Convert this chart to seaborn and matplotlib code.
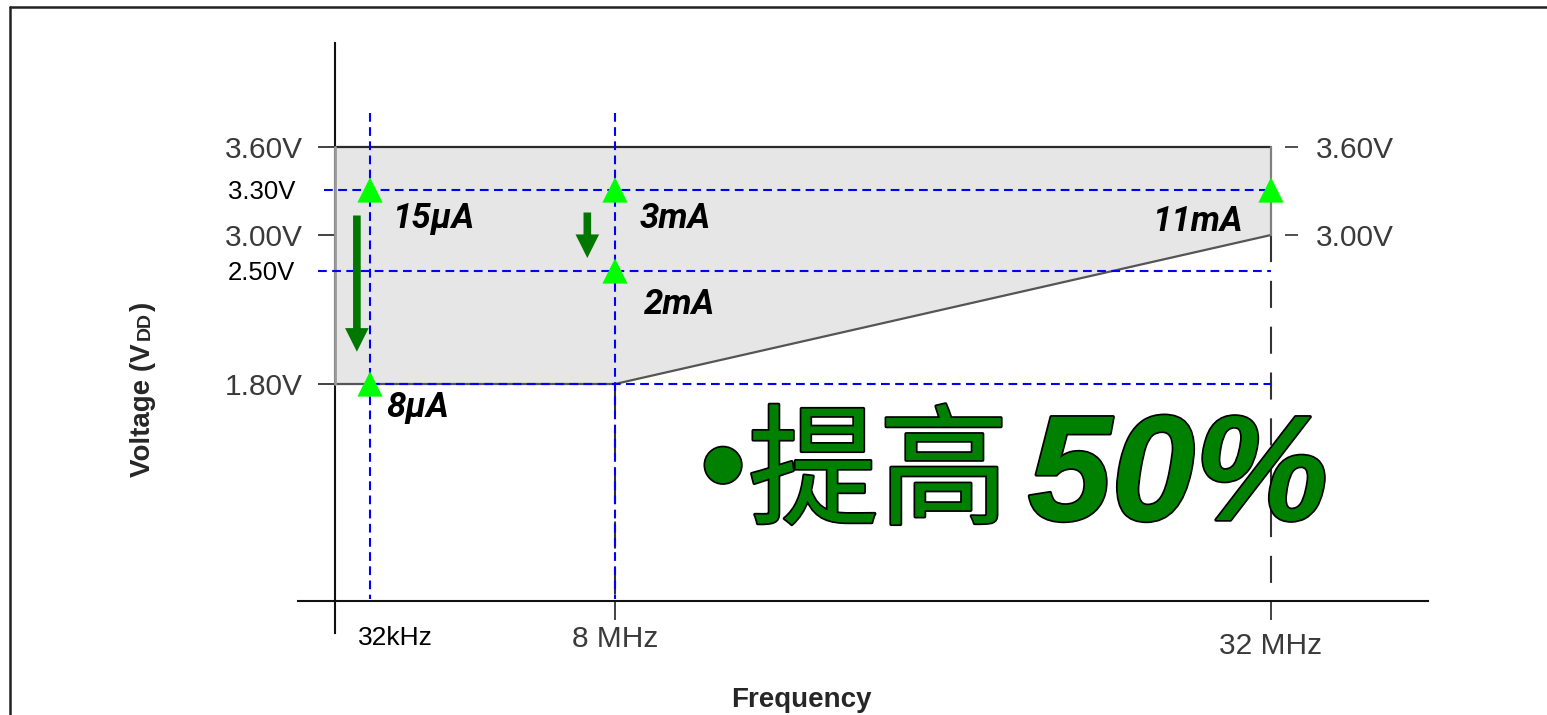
import numpy as np
import matplotlib
matplotlib.use("Agg")
import matplotlib.pyplot as plt
import seaborn as sns
from matplotlib import patheffects as pe
from matplotlib.lines import Line2D
from matplotlib.transforms import ScaledTranslation

# ---- operating envelope (frequency in MHz, supply in V) ----
env_freq = [0.0, 8.0, 32.0]
env_vmin = [1.80, 1.80, 3.00]
env_vmax = [3.60, 3.60, 3.60]

# ---- axis ticks ----
y_ticks = [1.80, 3.00, 3.60]
y_tick_labels = ["1.80V", "3.00V", "3.60V"]
right_ticks = [3.00, 3.60]
right_tick_labels = ["3.00V", "3.60V"]
x_ticks = [8.0, 32.0]
x_tick_labels = ["8 MHz", "32 MHz"]
low_clock = 0.032
low_clock_label = "32kHz"

# ---- guide levels ----
guide_volts = [3.30, 2.50, 1.80]
guide_volt_labels = ["3.30V", "2.50V", ""]
guide_freqs = [0.032, 8.0]

# ---- supply current at each operating point ----
pt_freq = [0.032, 0.032, 8.0, 8.0, 32.0]
pt_volt = [3.30, 1.80, 3.30, 2.50, 3.30]
pt_current = ["15μA", "8μA", "3mA", "2mA", "11mA"]

# ---- supply reductions ----
arrow_freq = [0.020, 7.1]
arrow_from = [3.13, 3.15]
arrow_to = [2.00, 2.68]

headline_bullet = "•"
headline_cjk = "提高"
headline_gain = "50%"

# ---- schematic (piecewise) axis scales ----
F_KNOTS = [-1.0, 0.0, 0.032, 8.0, 32.0, 41.0]
F_POS = [0.0, 37.0, 72.0, 317.0, 973.0, 1130.0]
V_KNOTS = [-0.3, 0.0, 1.8, 2.5, 3.0, 3.3, 3.6, 4.4]
V_POS = [0.0, 32.0, 249.0, 362.0, 398.0, 443.0, 486.0, 590.0]


def f_fwd(v):
    return np.interp(v, F_KNOTS, F_POS)


def f_inv(p):
    return np.interp(p, F_POS, F_KNOTS)


def v_fwd(v):
    return np.interp(v, V_KNOTS, V_POS)


def v_inv(p):
    return np.interp(p, V_POS, V_KNOTS)


sns.set_theme(style="white")
plt.rcParams["font.family"] = ["Liberation Sans", "DejaVu Sans"]

W, H = 1547, 715
fig = plt.figure(figsize=(W / 100, H / 100), dpi=100)
ax = fig.add_axes([298 / W, 1 - 633 / H, 1130 / W, 590 / H])
ax.set_xscale("function", functions=(f_fwd, f_inv))
ax.set_yscale("function", functions=(v_fwd, v_inv))
ax.set_xlim(F_KNOTS[0], F_KNOTS[-1])
ax.set_ylim(V_KNOTS[0], V_KNOTS[-1])
ax.patch.set_alpha(0)

for s in ["top", "right"]:
    ax.spines[s].set_visible(False)
ax.spines["left"].set_position(("data", 0))
ax.spines["bottom"].set_position(("data", 0))
for s in ["left", "bottom"]:
    ax.spines[s].set_color("#111111")
    ax.spines[s].set_linewidth(1.5)

tick_gray = "#3a3a3a"
ax.set_yticks(y_ticks, y_tick_labels)
ax.tick_params(axis="y", left=True, direction="out", length=12.5, width=1.2,
               color="#222222", pad=11, labelsize=21.5, labelcolor=tick_gray)
ax.set_xticks(x_ticks, x_tick_labels)
ax.tick_params(axis="x", bottom=True, direction="out", length=14, width=1.2,
               color="#222222", pad=3, labelsize=21.5, labelcolor=tick_gray)
ax.minorticks_off()
# the 32 MHz caption sits a little lower than the 8 MHz one
last_tick = ax.xaxis.get_major_ticks()[-1]
last_tick.label1.set_transform(last_tick.label1.get_transform()
                               + ScaledTranslation(0, -7 / 100, fig.dpi_scale_trans))

# right-hand voltage marks at the 32 MHz edge
axr = ax.twinx()
axr.set_yscale("function", functions=(v_fwd, v_inv))
axr.set_ylim(V_KNOTS[0], V_KNOTS[-1])
for s in axr.spines.values():
    s.set_visible(False)
axr.spines["right"].set_position(("axes", (1285 - 298) / 1130))
axr.set_yticks(right_ticks, right_tick_labels)
axr.tick_params(axis="y", right=True, left=False, direction="out", length=9.5,
                width=1.2, color="#333333", pad=13, labelsize=21.5,
                labelcolor=tick_gray)
axr.minorticks_off()

# envelope
ax.fill_between(env_freq, env_vmin, env_vmax, color="#e6e6e6", lw=0, zorder=1)
ax.plot(env_freq, env_vmax, color="#2a2a2a", lw=1.6, zorder=3)
ax.plot(env_freq, env_vmin, color="#555555", lw=1.6, zorder=3)
ax.plot([env_freq[0]] * 2, [env_vmin[0], env_vmax[0]], color="#9a9a9a",
        lw=2.0, zorder=3)
ax.plot([env_freq[-1]] * 2, [env_vmin[-1], env_vmax[-1]], color="#808080",
        lw=1.6, zorder=3)

# long-dash drop lines from the envelope floor to the frequency axis
for f, v in zip(env_freq[1:], env_vmin[1:]):
    ax.plot([f, f], [v, 0.0], color="#333333", lw=1.5,
            linestyle=(0, (13, 9)), zorder=2)

# blue guides
guide_left = [-0.3, -0.45, 0.05]
for v, x0 in zip(guide_volts, guide_left):
    ax.plot([x0, env_freq[-1]], [v, v], color="#0000ff", lw=1.5,
            linestyle=(0, (4.2, 2.6)), zorder=4)
for f in guide_freqs:
    ax.plot([f, f], [3.86, 0.02], color="#0000ff", lw=1.5,
            linestyle=(0, (4.2, 2.6)), zorder=4)

for v, lab in zip(guide_volts, guide_volt_labels):
    if lab:
        ax.annotate(lab, xy=(0.0, v), xytext=(-107, 0), textcoords="offset pixels",
                    ha="left", va="center_baseline", fontsize=18.5, color="black")

# operating points
sns.scatterplot(x=pt_freq, y=pt_volt, marker="^", s=330, color="#00ff00",
                edgecolor="none", linewidth=0, zorder=6, ax=ax, legend=False)

# supply reductions
for f, v0, v1 in zip(arrow_freq, arrow_from, arrow_to):
    ax.annotate("", xy=(f, v1), xytext=(f, v0),
                arrowprops=dict(arrowstyle="simple,head_length=17,head_width=17,tail_width=5.5",
                                mutation_scale=1, color="#007800", lw=0,
                                shrinkA=0, shrinkB=0), zorder=5)

# current labels
label_offsets = [(22, -38, "left"), (16, -33, "left"), (25, -38, "left"),
                 (29, -43, "left"), (-28, -41, "right")]
for f, v, txt, (dx, dy, ha) in zip(pt_freq, pt_volt, pt_current, label_offsets):
    ax.annotate(txt, xy=(f, v), xytext=(dx, dy), textcoords="offset pixels",
                ha=ha, va="baseline", fontsize=25, fontweight="bold",
                fontstyle="italic", color="black", zorder=7,
                family=["Roboto", "Liberation Sans", "DejaVu Sans"])

# low-clock label
ax.annotate(low_clock_label, xy=(low_clock, 0.0), xytext=(-12, -44),
            textcoords="offset pixels", ha="left", va="baseline",
            fontsize=19, color="black")

# axis titles
fig.text(801 / W, 1 - 707 / H, "Frequency", ha="center", va="baseline",
         fontsize=20, fontweight="bold")
fig.text(150 / W, 1 - 477 / H, "Voltage (V", rotation=90, rotation_mode="anchor",
         ha="left", va="baseline", fontsize=20, fontweight="bold")
fig.text(150 / W, 1 - 340 / H, "DD", rotation=90, rotation_mode="anchor",
         ha="left", va="baseline", fontsize=14, fontweight="bold")
fig.text(150 / W, 1 - 311 / H, ")", rotation=90, rotation_mode="anchor",
         ha="left", va="baseline", fontsize=20, fontweight="bold")

# headline
outline = [pe.Stroke(linewidth=2.5, foreground="black"), pe.Normal()]
green = "#008000"
fig.text(700 / W, 1 - 509 / H, headline_bullet, ha="left", va="baseline",
         fontsize=95, color=green, path_effects=outline,
         family=["Liberation Sans", "DejaVu Sans"])
fig.text(748 / W, 1 - 514 / H, headline_cjk, ha="left", va="baseline",
         fontsize=94, color=green, path_effects=outline,
         family=["Noto Sans CJK SC", "DejaVu Sans"])
fig.text(1028 / W, 1 - 520 / H, headline_gain, ha="left", va="baseline",
         fontsize=108, color=green, fontweight="bold", fontstyle="italic",
         path_effects=outline)

# page frame
fig.add_artist(Line2D([10 / W, 1.0], [1 - 7 / H, 1 - 7 / H],
                      transform=fig.transFigure, color="#222222", lw=1.8))
fig.add_artist(Line2D([10 / W, 10 / W], [0.0, 1 - 7 / H],
                      transform=fig.transFigure, color="#222222", lw=1.8))

fig.savefig("out.png", dpi=100, facecolor="white")
